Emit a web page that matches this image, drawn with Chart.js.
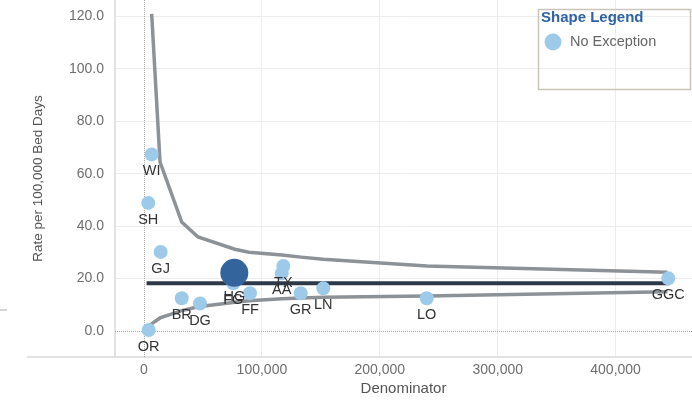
<!DOCTYPE html>
<html>
<head>
<meta charset="utf-8">
<title>Funnel plot</title>
<script src="https://cdn.jsdelivr.net/npm/chart.js@4"></script>
<style>
  html, body { margin: 0; padding: 0; background: #fff; }
  canvas { display: block; }
</style>
</head>
<body>
<canvas id="funnel" width="692" height="400"></canvas>
<script>
// sites, their denominators and rates per 100,000 bed days
const sites = ["OR", "SH", "WI", "GJ", "BR", "DG", "FG", "FF", "AA", "TX", "GR", "LN", "LO", "GGC"];
const denominators = [4000, 3600, 6500, 14100, 32000, 47500, 75700, 89900, 116800, 118200, 132900, 152100, 239800, 444700];
const rates = [0.4, 48.9, 67.4, 30.2, 12.5, 10.5, 18.2, 14.4, 22.0, 24.8, 14.4, 16.3, 12.5, 20.1];

// selected site
const selectedSites = ["HG"];
const selectedDenominators = [76600];
const selectedRates = [22.2];

// overall mean and funnel limits
const meanDenominators = [2200, 446000];
const meanRates = [18.2, 18.2];
const upperDenominators = [6500, 13600, 32000, 45800, 77000, 89000, 117000, 133000, 152000, 240000, 444000];
const upperRates = [121.0, 64.5, 41.6, 35.9, 31.2, 30.1, 29.0, 28.2, 27.4, 24.8, 22.4];
const lowerDenominators = [2000, 6500, 13600, 32000, 46000, 77000, 89000, 117000, 133000, 152000, 240000, 444000];
const lowerRates = [0.4, 2.8, 5.0, 7.8, 9.3, 11.0, 11.6, 12.3, 12.6, 12.9, 13.4, 15.0];

const xTicks = [0, 100000, 200000, 300000, 400000];
const yTicks = [0, 20, 40, 60, 80, 100, 120];

const toPoints = (xs, ys) => xs.map((x, i) => ({ x: x, y: ys[i] }));

const LIGHT_BLUE = "#9ecae9";
const DARK_BLUE = "#33649c";
const FONT = "'Liberation Sans', Arial, sans-serif";

// dotted zero lines and the extended axis lines
const axisLines = {
  id: "axisLines",
  beforeDatasetsDraw(chart) {
    const { ctx, chartArea, scales } = chart;
    const x0 = scales.x.getPixelForValue(0);
    const y0 = scales.y.getPixelForValue(0);
    ctx.save();
    ctx.strokeStyle = "#d9d9d9";
    ctx.lineWidth = 1.5;
    ctx.beginPath();
    ctx.moveTo(27, chartArea.bottom);
    ctx.lineTo(chartArea.right, chartArea.bottom);
    ctx.moveTo(chartArea.left, chartArea.top);
    ctx.lineTo(chartArea.left, chartArea.bottom);
    ctx.stroke();
    ctx.fillStyle = "#d6d6d6";
    ctx.fillRect(0, 309, 7, 2);

    ctx.strokeStyle = "#a8a8a8";
    ctx.lineWidth = 1;
    ctx.setLineDash([1, 1]);
    ctx.beginPath();
    ctx.moveTo(chartArea.left, Math.round(y0) + 0.5);
    ctx.lineTo(chartArea.right, Math.round(y0) + 0.5);
    ctx.moveTo(Math.round(x0) + 0.5, chartArea.top);
    ctx.lineTo(Math.round(x0) + 0.5, chartArea.bottom);
    ctx.stroke();
    ctx.restore();
  }
};

// site codes under each mark
const pointLabels = {
  id: "pointLabels",
  afterDatasetsDraw(chart) {
    const ctx = chart.ctx;
    ctx.save();
    ctx.font = "14.5px " + FONT;
    ctx.fillStyle = "#333";
    ctx.textAlign = "center";
    ctx.textBaseline = "middle";
    chart.data.datasets.forEach((ds, i) => {
      if (!ds.siteLabels) return;
      chart.getDatasetMeta(i).data.forEach((pt, j) => {
        ctx.fillText(ds.siteLabels[j], pt.x, pt.y + ds.pointRadius + 10);
      });
    });
    ctx.restore();
  }
};

const shapeLegend = {
  id: "shapeLegend",
  afterDraw(chart) {
    const ctx = chart.ctx;
    ctx.save();
    ctx.strokeStyle = "#c9c5bb";
    ctx.lineWidth = 1.5;
    ctx.strokeRect(538.5, 9.5, 152, 80);
    ctx.textBaseline = "middle";
    ctx.textAlign = "left";
    ctx.font = "bold 15px " + FONT;
    ctx.fillStyle = "#2f63a3";
    ctx.fillText("Shape Legend", 541, 18);
    ctx.fillStyle = LIGHT_BLUE;
    ctx.beginPath();
    ctx.arc(553, 42, 8.5, 0, Math.PI * 2);
    ctx.fill();
    ctx.font = "14.5px " + FONT;
    ctx.fillStyle = "#666";
    ctx.fillText("No Exception", 570, 42);
    ctx.restore();
  }
};

const gridColor = (c) => (c.tick && c.tick.value === 0 ? "rgba(0,0,0,0)" : "#ececec");

// fixed axis sizes, no extra room for edge labels
const noPadding = (s) => {
  s.paddingLeft = 0;
  s.paddingRight = 0;
  s.paddingTop = 0;
  s.paddingBottom = 0;
};

new Chart(document.getElementById("funnel"), {
  type: "scatter",
  data: {
    datasets: [
      {
        label: "Upper limit",
        data: toPoints(upperDenominators, upperRates),
        showLine: true,
        borderColor: "#8d9297",
        borderWidth: 3.5,
        pointRadius: 0,
        order: 3
      },
      {
        label: "Lower limit",
        data: toPoints(lowerDenominators, lowerRates),
        showLine: true,
        borderColor: "#8d9297",
        borderWidth: 3.5,
        pointRadius: 0,
        order: 3
      },
      {
        label: "Mean",
        data: toPoints(meanDenominators, meanRates),
        showLine: true,
        borderColor: "#2d3848",
        borderWidth: 4,
        pointRadius: 0,
        order: 2
      },
      {
        label: "No Exception",
        data: toPoints(denominators, rates),
        siteLabels: sites,
        backgroundColor: LIGHT_BLUE,
        borderWidth: 0,
        pointRadius: 7,
        order: 1
      },
      {
        label: "Selected",
        data: toPoints(selectedDenominators, selectedRates),
        siteLabels: selectedSites,
        backgroundColor: DARK_BLUE,
        borderWidth: 0,
        pointRadius: 14,
        order: 0
      }
    ]
  },
  options: {
    responsive: false,
    animation: false,
    layout: { padding: 0, autoPadding: false },
    plugins: {
      legend: { display: false },
      tooltip: { enabled: false }
    },
    scales: {
      x: {
        type: "linear",
        min: -24600,
        max: 464800,
        afterBuildTicks: (s) => { s.ticks = xTicks.map((v) => ({ value: v })); },
        afterFit: (s) => { s.height = 43; noPadding(s); },
        grid: { color: gridColor, drawTicks: false },
        border: { display: false },
        ticks: {
          padding: 5,
          color: "#6e6e6e",
          font: { family: FONT, size: 14 },
          callback: (v) => v.toLocaleString("en-US")
        },
        title: {
          display: true,
          text: "Denominator",
          color: "#555",
          font: { family: FONT, size: 15 },
          padding: { top: 0, bottom: 2 }
        }
      },
      y: {
        min: -9.9,
        max: 126.3,
        afterBuildTicks: (s) => { s.ticks = yTicks.map((v) => ({ value: v })); },
        afterFit: (s) => { s.width = 115; noPadding(s); },
        grid: { color: gridColor, drawTicks: false },
        border: { display: false },
        ticks: {
          padding: 11,
          color: "#6e6e6e",
          font: { family: FONT, size: 14 },
          callback: (v) => v.toFixed(1)
        },
        title: {
          display: true,
          text: "Rate per 100,000 Bed Days",
          color: "#555",
          font: { family: FONT, size: 13.5 },
          padding: { top: 30, bottom: 0 }
        }
      }
    }
  },
  plugins: [axisLines, pointLabels, shapeLegend]
});
</script>
</body>
</html>
